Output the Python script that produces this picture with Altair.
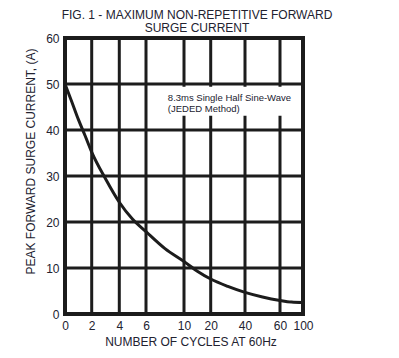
import altair as alt
import pandas as pd

# Data
cycles = [0, 0.5, 1, 1.5, 2, 3, 4, 5, 6, 8, 10, 15, 20, 30, 40, 50, 60, 80, 100]
amps = [50, 46.2, 42.3, 38.8, 35.2, 29.4, 24.3, 20.6, 17.9, 14.2, 11.4, 9.3, 7.6, 6.0, 4.7, 3.7, 2.95, 2.6, 2.5]

x_ticks = [0, 2, 4, 6, 10, 20, 40, 60, 100]
y_ticks = [0, 10, 20, 30, 40, 50, 60]
x_tick_px = [0, 26.7, 54.3, 81, 119, 145.7, 180, 215, 238]

note_lines = ["8.3ms Single Half Sine-Wave", "(JEDED Method)"]
note_box = {"x": 7.4, "x2": 95, "y": 49.4, "y2": 43.1}
note_pos = {"x": 8.3, "y": 48.0}

title_lines = ["FIG. 1 - MAXIMUM NON-REPETITIVE FORWARD", "SURGE CURRENT"]

FONT = "Liberation Sans"
INK = "#1c1c1c"
TXT = "#222230"

df = pd.DataFrame({"cycles": cycles, "amps": amps})

xscale = alt.Scale(type="linear", domain=x_ticks, range=x_tick_px, zero=False, nice=False)
yscale = alt.Scale(domain=[0, 60], nice=False, zero=True)

xaxis = alt.Axis(
    values=x_ticks, tickCount=30, title="NUMBER OF CYCLES AT 60Hz", grid=False, labelOverlap=False,
    domain=False, ticks=False, labelPadding=6, labelFontSize=12, labelFont=FONT,
    labelColor=TXT, titleFont=FONT, titleFontSize=12, titleFontWeight="normal", titleColor=TXT,
    titleX=125.5, titleY=27, titleBaseline="middle", labelFlush=False,
)
yaxis = alt.Axis(
    values=y_ticks, tickCount=30, title="PEAK FORWARD SURGE CURRENT, (A)", grid=False, labelOverlap=False,
    domain=False, ticks=False, labelPadding=6, labelFontSize=12, labelFont=FONT,
    labelColor=TXT, titleFont=FONT, titleFontSize=12, titleFontWeight="normal", titleColor=TXT,
    titleX=-35, titleY=123, titleBaseline="middle", labelFlush=False,
)

vgrid = alt.Chart(pd.DataFrame({"gx": x_ticks})).mark_rule(color=INK, strokeWidth=3).encode(
    x=alt.X("gx:Q", scale=xscale, axis=xaxis)
)
hgrid = alt.Chart(pd.DataFrame({"gy": y_ticks})).mark_rule(color=INK, strokeWidth=3).encode(
    y=alt.Y("gy:Q", scale=yscale, axis=yaxis)
)

curve = alt.Chart(df).mark_line(color=INK, strokeWidth=3, interpolate="monotone").encode(
    x=alt.X("cycles:Q", scale=xscale),
    y=alt.Y("amps:Q", scale=yscale),
)

box = alt.Chart(pd.DataFrame([note_box])).mark_rect(color="white", opacity=1).encode(
    x=alt.X("x:Q", scale=xscale), x2="x2:Q",
    y=alt.Y("y:Q", scale=yscale), y2="y2:Q",
)

note = alt.Chart(pd.DataFrame([{**note_pos, "t": note_lines}])).mark_text(
    align="left", baseline="top", font=FONT, fontSize=9.5, color=TXT, lineHeight=11,
).encode(
    x=alt.X("x:Q", scale=xscale), y=alt.Y("y:Q", scale=yscale), text="t",
)

chart = alt.layer(vgrid, hgrid, curve, box, note).properties(
    width=238, height=276,
    title=alt.TitleParams(text=title_lines, font=FONT, fontSize=12, fontWeight="normal",
                          color=TXT, anchor="middle", dx=13, offset=-3, lineHeight=13.5),
    autosize="none",
    padding={"left": 57, "top": 30, "right": 88, "bottom": 36},
).configure_view(stroke=INK, strokeWidth=4)

chart.save("out.html", embed_options={"renderer": "svg", "actions": False})
